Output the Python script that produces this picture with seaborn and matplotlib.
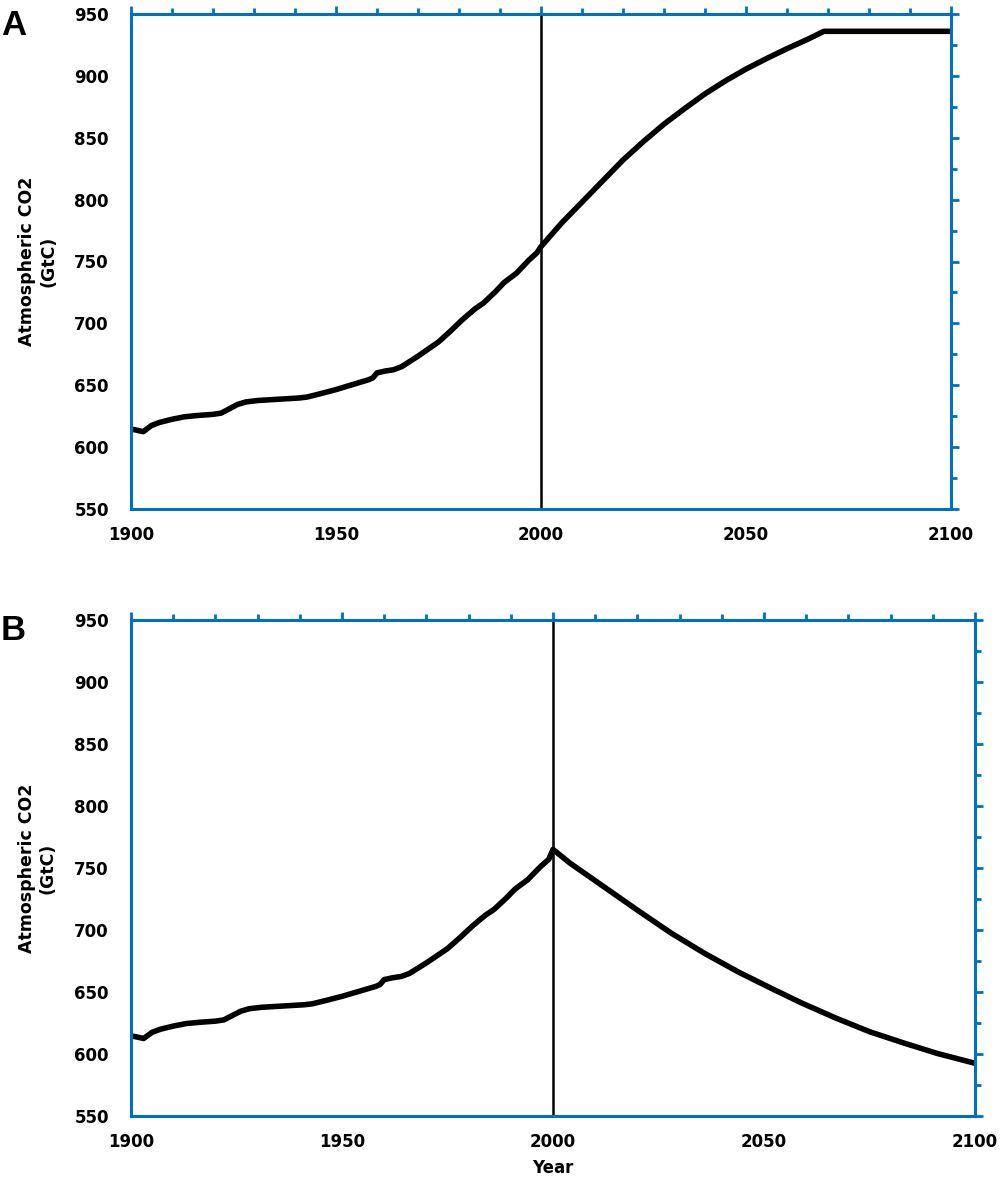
import numpy as np
import pandas as pd
import matplotlib
matplotlib.use("Agg")
import matplotlib.pyplot as plt
from matplotlib.ticker import MultipleLocator
import seaborn as sns

# ---- data ----
hist_years = [1900, 1901, 1903, 1905, 1907, 1910, 1913, 1916, 1920, 1922, 1924, 1926,
              1928, 1931, 1935, 1941, 1943, 1946, 1950, 1955, 1958, 1959, 1960, 1962,
              1964, 1966, 1970, 1975, 1978, 1981, 1984, 1986, 1989, 1991, 1994, 1997, 1999]
hist_co2 = [614.5, 614, 612.5, 617.5, 620, 622.5, 624.5, 625.5, 626.5, 627.5, 631, 634.5,
            636.5, 637.7, 638.5, 639.7, 640.5, 643, 646.5, 651.5, 654.5, 656, 660, 661.5,
            662.5, 665, 673.5, 685, 694, 703.5, 712, 716.5, 726, 733, 740.5, 751, 757]

a_years = [2000, 2005, 2010, 2015, 2020, 2025, 2030, 2035, 2040, 2045, 2050, 2055,
           2060, 2065, 2069, 2100]
a_co2 = [762, 781, 798, 815, 832, 847, 861, 873.5, 885.5, 896, 905.5, 914,
         922, 929.5, 936, 936]

b_years = [2000, 2004, 2012, 2020, 2028, 2036, 2044, 2052, 2059, 2067, 2075, 2083, 2091, 2100]
b_co2 = [765, 754, 735, 716, 697.5, 681, 666, 652.5, 641, 629, 618, 609, 600.5, 592.5]

x_ticks = [1900, 1950, 2000, 2050, 2100]
y_ticks = [550, 600, 650, 700, 750, 800, 850, 900, 950]
marker_year = 2000
panel_labels = ["A", "B"]
y_label = "Atmospheric CO2\n(GtC)"
x_label = "Year"

df_a = pd.DataFrame({"year": hist_years + a_years, "co2": hist_co2 + a_co2})
df_b = pd.DataFrame({"year": hist_years + b_years, "co2": hist_co2 + b_co2})

# ---- styling ----
sns.set_style("white")
plt.rcParams["font.family"] = ["DejaVu Sans"]
plt.rcParams["text.color"] = "black"
plt.rcParams["axes.labelcolor"] = "black"
plt.rcParams["xtick.labelcolor"] = "black"
plt.rcParams["ytick.labelcolor"] = "black"
BLUE = "#0070C0"

fig = plt.figure(figsize=(10, 11.89), dpi=100)
W, H = 1000, 1189
axA = fig.add_axes([131 / W, 1 - 509 / H, 820 / W, 495 / H])
axB = fig.add_axes([131 / W, 1 - 1116 / H, 844 / W, 496 / H])

for ax, df, lab, ytop in [(axA, df_a, panel_labels[0], 35), (axB, df_b, panel_labels[1], 640)]:
    sns.lineplot(data=df, x="year", y="co2", ax=ax, color="black", linewidth=4.0,
                 estimator=None, sort=True)
    ax.axvline(marker_year, color="black", linewidth=1.8, zorder=1)
    ax.set_xlim(x_ticks[0], x_ticks[-1])
    ax.set_ylim(y_ticks[0], y_ticks[-1])
    ax.set_xticks(x_ticks)
    ax.set_yticks(y_ticks)
    ax.xaxis.set_minor_locator(MultipleLocator(10))
    ax.yaxis.set_minor_locator(MultipleLocator(25))
    for s in ax.spines.values():
        s.set_visible(True)
        s.set_color(BLUE)
        s.set_linewidth(2.2)
    ax.tick_params(axis="both", which="both", direction="out", color=BLUE, width=2.0,
                   top=True, right=True, labeltop=False, labelright=False)
    ax.tick_params(axis="both", which="major", length=6, labelsize=12)
    ax.tick_params(axis="y", which="major", pad=10)
    ax.tick_params(axis="x", which="major", pad=6)
    ax.tick_params(axis="both", which="minor", length=4.5)
    for t in ax.get_xticklabels() + ax.get_yticklabels():
        t.set_fontweight("bold")
    ax.set_xlabel("")
    ax.set_ylabel(y_label, fontsize=12.5, fontweight="bold", ma="center")
    fig.text(1 / W, 1 - ytop / H, lab, fontsize=25, fontweight="bold",
             family="Liberation Sans", ha="left", va="baseline")

axA.yaxis.set_label_coords(-0.090, 0.5)
axB.yaxis.set_label_coords(-0.088, 0.5)
axB.set_xlabel(x_label, fontsize=12, fontweight="bold", labelpad=6)

fig.savefig("out.png", dpi=100)
